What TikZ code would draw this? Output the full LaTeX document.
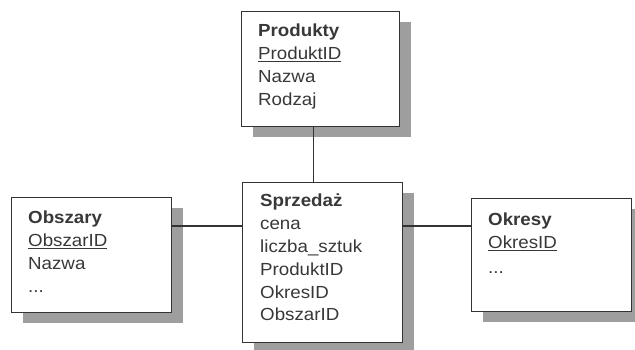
\documentclass[tikz,border=0pt]{standalone}
\usepackage{fontspec}
\setmainfont[FakeStretch=1.07]{Liberation Sans}
\usetikzlibrary{shadows}
\tikzset{
  entity/.style={draw=black!80, line width=1.3pt, fill=white, anchor=north west, inner sep=0pt,
    drop shadow={shadow xshift=11pt, shadow yshift=-10pt, fill=black!38, opacity=1}},
  fields/.style={anchor=north west, inner sep=0pt, align=left, text=black!78,
    font=\fontsize{17.5}{22.8}\selectfont},
  link/.style={draw=black!80, line width=1.2pt}
}
\begin{document}
\begin{tikzpicture}[x=1pt,y=-1pt]
\useasboundingbox[fill=white] (0,0) rectangle (635,349);
% boxes
\node[entity, minimum width=158pt, minimum height=115pt] (prod) at (241,11) {};
\node[entity, minimum width=160pt, minimum height=160pt] (sprz) at (242,182) {};
\node[entity, minimum width=160pt, minimum height=115pt] (obsz) at (11,197) {};
\node[entity, minimum width=160pt, minimum height=113pt] (okr) at (471,198) {};
% texts
\node[fields] (prodt) at ([xshift=17pt,yshift=-13pt]prod.north west)
  {\textbf{Produkty}\\\underline{ProduktID}\\Nazwa\\Rodzaj};
\node[fields] (sprzt) at ([xshift=18pt,yshift=-12pt]sprz.north west)
  {\textbf{Sprzedaż}\\cena\\liczba\_sztuk\\ProduktID\\OkresID\\ObszarID};
\node[fields] (obszt) at ([xshift=17pt,yshift=-14pt]obsz.north west)
  {\textbf{Obszary}\\\underline{ObszarID}\\Nazwa\\...};
\node[fields] (okrt) at ([xshift=17pt,yshift=-15pt]okr.north west)
  {\textbf{Okresy}\\\underline{OkresID}\\[2pt]...};
% connectors
\coordinate (hy) at (0,226);
\draw[link] ([xshift=-7pt]prod.south) -- ([xshift=-7pt]prod.south |- sprz.north);
\draw[link] (obsz.east |- hy) -- (sprz.west |- hy);
\draw[link] (sprz.east |- hy) -- (okr.west |- hy);
\end{tikzpicture}
\end{document}
